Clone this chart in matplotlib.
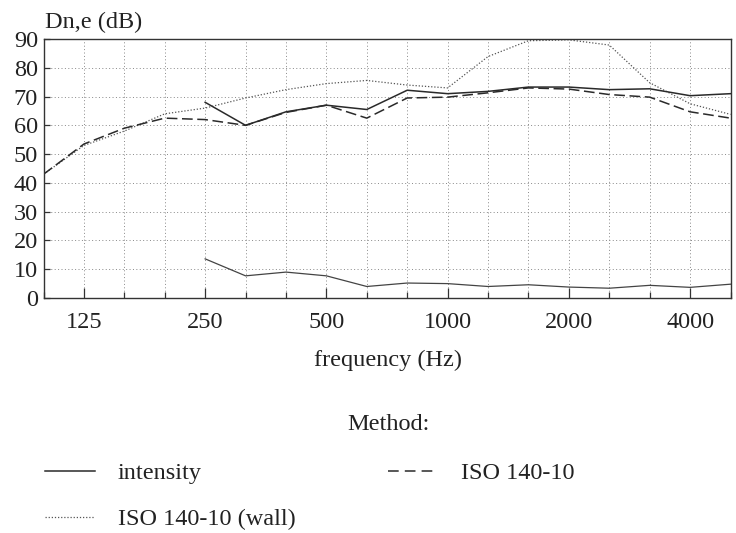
import matplotlib
matplotlib.use("Agg")
import matplotlib.pyplot as plt
from matplotlib.lines import Line2D

plt.rcParams['font.family'] = ['Liberation Serif', 'DejaVu Serif']

bands = [100, 125, 160, 200, 250, 315, 400, 500, 630, 800, 1000, 1250,
         1600, 2000, 2500, 3150, 4000, 5000]
tick_labels = ['125', '250', '500', '1000', '2000', '4000']
tick_bands = [125, 250, 500, 1000, 2000, 4000]

# values in dB (None = no data)
intensity = [None, None, None, None, 68, 60, 64.7, 67, 65.5, 72.2, 71, 71.8,
             73.3, 73.3, 72.4, 72.7, 70.3, 71]
iso = [43, 53.5, 59, 62.5, 62, 60, 64.5, 67, 62.5, 69.5, 69.8, 71.3,
       73, 72.6, 70.7, 69.8, 64.7, 62.5]
iso_wall = [43, 53, 58, 64, 66, 69.5, 72.4, 74.5, 75.6, 74, 73, 83.9,
            89.4, 89.7, 87.9, 74.8, 67.5, 63.8]
lower = [None, None, None, None, 13.6, 7.7, 9, 7.7, 4, 5.2, 5, 4,
         4.6, 3.8, 3.4, 4.4, 3.7, 4.8]

def series(vals):
    xs = [i for i, v in enumerate(vals) if v is not None]
    ys = [v for v in vals if v is not None]
    return xs, ys

FS = 17.5
tc = '#222222'
fig = plt.figure(figsize=(7.36, 5.33), dpi=100)
ax = fig.add_axes([43.5/736, 1-298/533, 687/736, 259/533])

lc = '#2a2a2a'
x, y = series(iso_wall)
ax.plot(x, y, color='#555555', lw=0.9, ls=(0, (1, 1.5)), label='ISO 140-10 (wall)')
x, y = series(iso)
ax.plot(x, y, color=lc, lw=1.1, ls=(0, (7, 3)), label='ISO 140-10')
x, y = series(intensity)
ax.plot(x, y, color=lc, lw=1.1, ls='-', label='intensity')
x, y = series(lower)
ax.plot(x, y, color='#444444', lw=0.9, ls='-')

ax.set_xlim(0, len(bands) - 1)
ax.set_ylim(0, 90)
ax.set_xticks([bands.index(b) for b in tick_bands])
ax.set_xticklabels(tick_labels)
ax.set_xticks(range(len(bands)), minor=True)
ax.set_yticks(range(0, 91, 10))
ax.grid(True, which='both', color='#888888', ls=(0, (1, 2.5)), lw=0.7)
ax.tick_params(axis='both', which='both', direction='in', labelsize=FS,
               color='#333333', width=0.9, labelcolor=tc)
ax.tick_params(axis='x', which='major', length=7, pad=10)
ax.tick_params(axis='x', which='minor', length=4)
ax.tick_params(axis='y', length=4, pad=4)
for s in ax.spines.values():
    s.set_color('#333333')
    s.set_linewidth(1.0)

fig.text(45/736, 1-22/533, 'Dn,e (dB)', fontsize=FS, va='center', ha='left', color=tc)
fig.text(388/736, 1-360/533, 'frequency (Hz)', fontsize=FS, va='center', ha='center', color=tc)
fig.text(388/736, 1-425/533, 'Method:', fontsize=FS, va='center', ha='center', color=tc)

handles = [Line2D([], [], color=lc, lw=1.1, ls='-'),
           Line2D([], [], color='#555555', lw=0.9, ls=(0, (1, 1.5))),
           Line2D([], [], color=lc, lw=1.1, ls=(0, (7, 4)))]
labels = ['intensity', 'ISO 140-10 (wall)', 'ISO 140-10']
leg = fig.legend(handles, labels, ncol=2, frameon=False, fontsize=FS,
                 loc='upper left', bbox_to_anchor=(45/736, 1-462/533),
                 handlelength=2.05, handletextpad=0.95, columnspacing=3.8,
                 labelspacing=1.0, borderpad=0, borderaxespad=0)
for t in leg.get_texts():
    t.set_color(tc)

fig.savefig('out.png', dpi=100)
